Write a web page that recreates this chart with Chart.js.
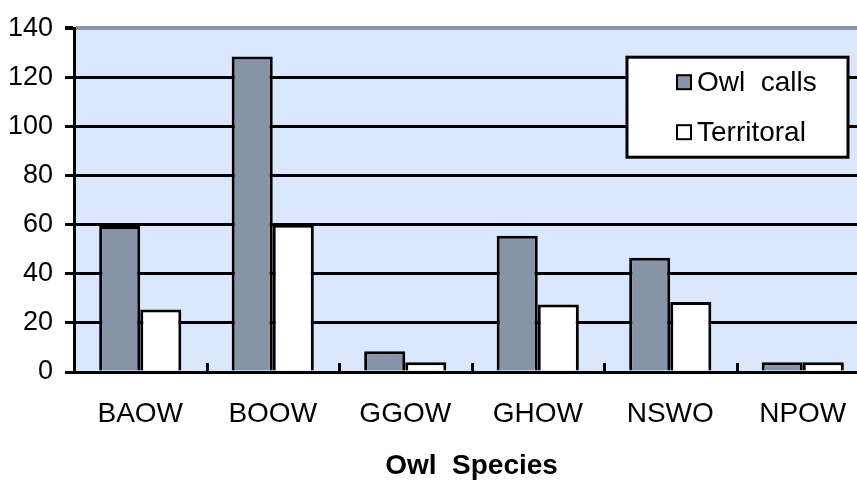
<!DOCTYPE html>
<html>
<head>
<meta charset="utf-8">
<script src="https://cdn.jsdelivr.net/npm/chart.js@4.4.1/dist/chart.umd.min.js"></script>
<style>
  html, body { margin: 0; padding: 0; background: #ffffff; overflow: hidden; }
  #wrap { width: 857px; height: 484px; overflow: hidden; position: relative; }
  canvas { display: block; }
</style>
</head>
<body>
<div id="wrap"><canvas id="c" width="880" height="484" style="width:880px;height:484px"></canvas></div>
<script>
const categories = ['BAOW', 'BOOW', 'GGOW', 'GHOW', 'NSWO', 'NPOW'];
const owlCalls = [59.5, 128.5, 8.5, 55.5, 46.5, 4];
const territoral = [25.5, 60, 4, 27.5, 28.5, 4];
const seriesNames = ['Owl  calls', 'Territoral'];
const yTicks = [0, 20, 40, 60, 80, 100, 120, 140];
const axisTitle = 'Owl  Species';

const FONT = "'Liberation Sans', Arial, sans-serif";
const GREY = '#8794A8';
const PLOT_BG = '#DAE7FC';

const bgPlugin = {
  id: 'plotBg',
  beforeDraw(chart) {
    const a = chart.chartArea, ctx = chart.ctx;
    ctx.save();
    ctx.fillStyle = PLOT_BG;
    ctx.fillRect(a.left, a.top, a.right - a.left, a.bottom - a.top);
    ctx.restore();
  }
};

const extrasPlugin = {
  id: 'extras',
  afterDraw(chart) {
    const ctx = chart.ctx, a = chart.chartArea, xs = chart.scales.x;
    ctx.save();
    ctx.strokeStyle = '#000';
    ctx.lineWidth = 3;
    for (let i = 1; i < categories.length; i++) {
      const x = Math.round((xs.getPixelForTick(i - 1) + xs.getPixelForTick(i)) / 2) + 0.5;
      ctx.beginPath();
      ctx.moveTo(x, a.bottom);
      ctx.lineTo(x, a.bottom - 9);
      ctx.stroke();
    }
    const L = a.right - 242, T = a.top + 29, W = 221, H = 100;
    ctx.fillStyle = '#fff';
    ctx.fillRect(L, T, W, H);
    ctx.strokeStyle = '#000';
    ctx.lineWidth = 3;
    ctx.strokeRect(L, T, W, H);
    const ds = chart.data.datasets;
    ds.forEach((d, i) => {
      const cy = T + 25 + i * 50;
      ctx.fillStyle = d.backgroundColor;
      ctx.fillRect(L + 50, cy - 7, 14, 14);
      ctx.lineWidth = 2;
      ctx.strokeStyle = '#000';
      ctx.strokeRect(L + 50, cy - 7, 14, 14);
      ctx.fillStyle = '#000';
      ctx.font = '28px ' + FONT;
      ctx.textBaseline = 'middle';
      ctx.textAlign = 'left';
      ctx.fillText(d.label, L + 70, cy + 1);
    });
    ctx.restore();
  }
};

new Chart(document.getElementById('c'), {
  type: 'bar',
  data: {
    labels: categories,
    datasets: [
      { label: seriesNames[0], data: owlCalls, backgroundColor: GREY, borderColor: '#000', borderWidth: 3 },
      { label: seriesNames[1], data: territoral, backgroundColor: '#FFFFFF', borderColor: '#000', borderWidth: 3 }
    ]
  },
  options: {
    responsive: false,
    animation: false,
    devicePixelRatio: 1,
    layout: { padding: { top: 19, right: 11, left: 0, bottom: 0 } },
    datasets: { bar: { categoryPercentage: 0.62, barPercentage: 1.0 } },
    plugins: { legend: { display: false }, tooltip: { enabled: false } },
    scales: {
      x: {
        offset: true,
        grid: { display: false, drawTicks: false },
        border: { display: true, color: '#000', width: 3 },
        ticks: { color: '#000', font: { family: FONT, size: 28 }, padding: 25, maxRotation: 0 },
        title: { display: true, text: axisTitle, color: '#000', font: { family: FONT, size: 28, weight: 'bold' }, padding: { top: 0, bottom: 1 } },
        afterFit(s) { s.height = 112; }
      },
      y: {
        min: 0, max: 140,
        afterBuildTicks(s) { s.ticks = yTicks.map(v => ({ value: v })); },
        grid: {
          color: c => (c.tick && c.tick.value === 140) ? GREY : '#000',
          lineWidth: c => (c.tick && c.tick.value === 140) ? 4 : 3,
          tickColor: '#000',
          tickLength: 9,
          drawTicks: true
        },
        border: { display: true, color: '#000', width: 3 },
        ticks: { color: '#000', font: { family: FONT, size: 27 }, padding: 12 },
        afterFit(s) { s.width = 74; }
      }
    }
  },
  plugins: [bgPlugin, extrasPlugin]
});
</script>
</body>
</html>
